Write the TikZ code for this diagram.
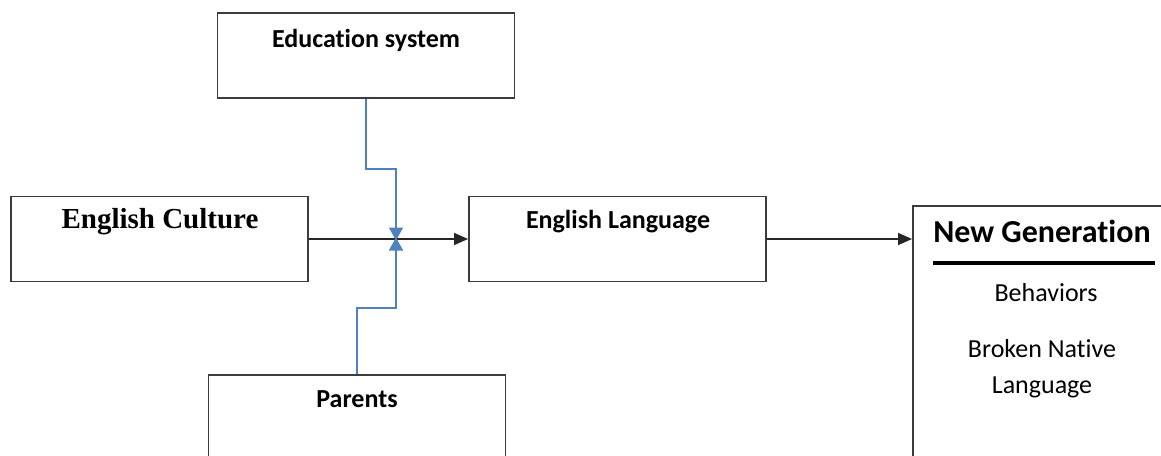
\documentclass[tikz,border=0pt]{standalone}
\usepackage{fontspec}
\setmainfont[Ligatures=NoCommon]{Carlito}
\newfontfamily\timesfont{Liberation Serif}
\usetikzlibrary{arrows.meta,positioning,calc}
\definecolor{LinkBlue}{RGB}{79,129,189}
\definecolor{BoxGray}{RGB}{60,60,60}
\tikzset{
  factorbox/.style={draw=BoxGray,line width=1.8pt,minimum width=297pt,
    minimum height=85pt,inner sep=0pt},
  boxtitle/.style={font=\fontsize{26}{30}\selectfont\bfseries,inner sep=0pt},
  plaintext/.style={font=\fontsize{26}{30}\selectfont,inner sep=0pt},
  mainarrow/.style={-{Triangle[length=14pt,width=12pt]},line width=1.4pt,draw=black!85},
  bluearrow/.style={-{Triangle[length=13pt,width=14pt]},line width=1.6pt,draw=LinkBlue},
}

\begin{document}
\begin{tikzpicture}[x=1pt,y=-1pt]
\useasboundingbox (0,0) rectangle (1161,455);
% boxes
\node[factorbox] (edu) at (366,55.5) {};
\node[factorbox] (cult) at (159.5,239) {};
\node[factorbox] (lang) at (617.5,239) {};
\node[factorbox,minimum height=120pt,anchor=north] (par) at (357,374) {};
\node[factorbox,minimum width=300pt,minimum height=280pt,anchor=north west] (newgen) at (912,205) {};
% box texts
\node[boxtitle] (edutxt) at (366,40) {Educat\kern0pt ion system};
\node[boxtitle,font=\fontsize{29}{33}\selectfont\timesfont\bfseries] (culttxt) at (160,222) {English Culture};
\node[boxtitle] (langtxt) at (618,222) {English Language};
\node[boxtitle] (partxt) at (357,399) {Parents};
\node[boxtitle,font=\fontsize{32}{36}\selectfont\bfseries] (ngtxt) at (1042,231) {New Generat\kern0pt ion};
\draw[line width=4pt] (933,263) -- (1155,263);
\node[plaintext] (behav) at (1046,293) {Behaviors};
\node[plaintext,align=center,font=\fontsize{26}{36}\selectfont] (broken) at (1042,369) {Broken Native\\Language};
% connectors
\coordinate (junc) at (396,239);
\draw[mainarrow] (cult.east) -- (lang.west);
\draw[mainarrow] (lang.east) -- (lang.east -| newgen.west);
\draw[bluearrow] (edu.south) -- ++(0,70) -| ([yshift=-1.5]junc);
\draw[bluearrow] (par.north) -- ++(0,-66) -| ([yshift=1.5]junc);
\end{tikzpicture}
\end{document}
